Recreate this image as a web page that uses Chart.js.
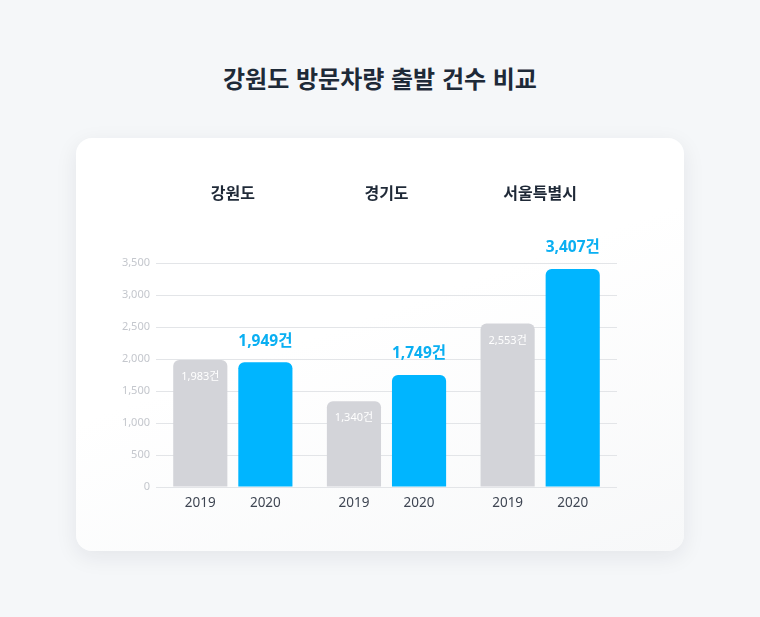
<!DOCTYPE html>
<html lang="ko">
<head>
<meta charset="utf-8">
<script src="https://cdn.jsdelivr.net/npm/chart.js@4.4.1/dist/chart.umd.min.js"></script>
<style>
  html, body { margin: 0; padding: 0; }
  body {
    width: 760px; height: 617px; background: #f5f7f9; position: relative; overflow: hidden;
    font-family: "Noto Sans", "Noto Sans CJK KR", sans-serif;
  }
  h1 {
    position: absolute; left: 0; top: 60px; width: 760px; margin: 0; text-align: center;
    font: 700 24px "Noto Sans CJK KR", "Noto Sans", sans-serif; color: #1e2a38; line-height: 36px;
  }
  #card {
    position: absolute; left: 76px; top: 138px; width: 608px; height: 413px;
    border-radius: 16px; background: linear-gradient(160deg, #ffffff 0%, #ffffff 45%, #f7f8f9 100%);
    box-shadow: 0 6px 22px rgba(20, 30, 50, 0.08);
  }
  #wrap { position: absolute; left: 0; top: 0; width: 608px; height: 413px; }
</style>
</head>
<body>
<h1>강원도 방문차량 출발 건수 비교</h1>
<div id="card"><div id="wrap"><canvas id="c"></canvas></div></div>
<script>
const groups = ['강원도', '경기도', '서울특별시'];
const years = ['2019', '2020'];
const values2019 = [1983, 1340, 2553];
const values2020 = [1949, 1749, 3407];
const yTickValues = [0, 500, 1000, 1500, 2000, 2500, 3000, 3500];

const fmt = v => v.toLocaleString('en-US');

const labelPlugin = {
  id: 'labels',
  afterDatasetsDraw(chart) {
    const ctx = chart.ctx;
    const area = chart.chartArea;
    const xs = chart.scales.x;
    ctx.save();
    ctx.textAlign = 'center';
    ctx.textBaseline = 'middle';
    // group titles
    ctx.fillStyle = '#1f2937';
    ctx.font = '700 16px "Noto Sans CJK KR", "Noto Sans", sans-serif';
    groups.forEach((g, i) => {
      ctx.fillText(g, xs.getPixelForValue(i), area.top - 70);
    });
    chart.data.datasets.forEach((ds, di) => {
      const meta = chart.getDatasetMeta(di);
      meta.data.forEach((bar, i) => {
        const v = ds.data[i];
        // year label
        ctx.fillStyle = '#3f4653';
        ctx.font = '400 13.5px "Noto Sans", "Noto Sans CJK KR", sans-serif';
        ctx.fillText(years[di], bar.x, area.bottom + 16);
        // value label
        if (di === 0) {
          ctx.fillStyle = '#ffffff';
          ctx.font = '400 11px "Noto Sans", "Noto Sans CJK KR", sans-serif';
          ctx.fillText(fmt(v) + '건', bar.x, bar.y + 17);
        } else {
          ctx.fillStyle = '#0aaff2';
          ctx.font = '700 15.5px "Noto Sans", "Noto Sans CJK KR", sans-serif';
          ctx.fillText(fmt(v) + '건', bar.x, bar.y - 21);
        }
      });
    });
    ctx.restore();
  }
};

new Chart(document.getElementById('c'), {
  type: 'bar',
  data: {
    labels: groups,
    datasets: [
      { label: years[0], data: values2019, backgroundColor: '#d3d4d9', borderRadius: 6, borderSkipped: 'start',
        categoryPercentage: 0.847, barPercentage: 0.832 },
      { label: years[1], data: values2020, backgroundColor: '#00b5ff', borderRadius: 6, borderSkipped: 'start',
        categoryPercentage: 0.847, barPercentage: 0.832 }
    ]
  },
  options: {
    responsive: true,
    maintainAspectRatio: false,
    animation: false,
    layout: { padding: { top: 125, bottom: 64, left: 30, right: 67 } },
    plugins: { legend: { display: false }, tooltip: { enabled: false }, title: { display: false } },
    scales: {
      x: { display: false, offset: true },
      y: {
        min: 0, max: 3500,
        afterFit: s => { s.width = 50; },
        afterBuildTicks: s => { s.ticks = yTickValues.map(v => ({ value: v })); },
        grid: { color: '#e3e5e8', lineWidth: 1, drawTicks: false },
        border: { display: false },
        ticks: {
          padding: 6,
          color: '#c4c7cd',
          font: { family: '"Noto Sans", "Noto Sans CJK KR", sans-serif', size: 11 },
          callback: v => fmt(v)
        }
      }
    }
  },
  plugins: [labelPlugin]
});
</script>
</body>
</html>
